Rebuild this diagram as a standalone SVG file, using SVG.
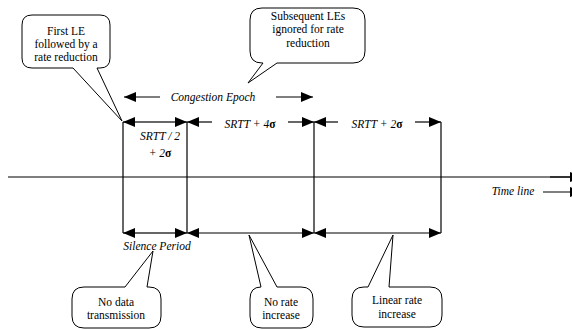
<svg xmlns="http://www.w3.org/2000/svg" width="572" height="330" viewBox="0 0 572 330">
<style>
.ln{stroke:#000;stroke-width:1.2;fill:none}
.ar{stroke:#000;stroke-width:1.2;fill:none;marker-end:url(#ah)}
.co{fill:#fff;stroke:#000;stroke-width:1}
.i{font-style:italic}
.s{font-weight:bold;font-style:normal}
</style>
<defs>
<marker id="ah" markerUnits="userSpaceOnUse" markerWidth="13" markerHeight="10" refX="12" refY="5" orient="auto">
<path d="M0,0 L12,5 L0,10 Z" fill="#000"/>
</marker>
</defs>
<rect width="572" height="330" fill="#fff"/>
<g id="connectors">
<line class="ln" x1="8" y1="177" x2="572" y2="177"/>
<line class="ar" x1="550" y1="177" x2="582" y2="177"/>
<line class="ln" x1="123" y1="122" x2="123" y2="233"/>
<line class="ln" x1="187" y1="122" x2="187" y2="233"/>
<line class="ln" x1="314" y1="122" x2="314" y2="233"/>
<line class="ln" x1="441" y1="122" x2="441" y2="233"/>
<line class="ar" x1="160" y1="97" x2="124" y2="97"/>
<line class="ar" x1="276" y1="97" x2="313" y2="97"/>
<line class="ar" x1="155" y1="122" x2="123" y2="122"/>
<line class="ar" x1="155" y1="122" x2="187" y2="122"/>
<line class="ar" x1="212" y1="122" x2="187" y2="122"/>
<line class="ar" x1="288" y1="122" x2="314" y2="122"/>
<line class="ar" x1="338" y1="122" x2="314" y2="122"/>
<line class="ar" x1="415" y1="122" x2="441" y2="122"/>
<line class="ar" x1="543" y1="192" x2="582" y2="192"/>
<line class="ar" x1="155" y1="233" x2="123" y2="233"/>
<line class="ar" x1="155" y1="233" x2="187" y2="233"/>
<line class="ar" x1="250" y1="233" x2="187" y2="233"/>
<line class="ar" x1="250" y1="233" x2="314" y2="233"/>
<line class="ar" x1="378" y1="233" x2="314" y2="233"/>
<line class="ar" x1="378" y1="233" x2="441" y2="233"/>
</g>
<g font-family="Liberation Serif, Times New Roman, serif" font-size="11.5" text-anchor="middle" fill="#000">
<g id="labels">
<text class="i" x="213" y="101">Congestion Epoch</text>
<text class="i" x="160" y="140">SRTT / 2</text>
<text class="i" x="160" y="157">+ 2<tspan class="s">σ</tspan></text>
<text class="i" x="250" y="128">SRTT + 4<tspan class="s">σ</tspan></text>
<text class="i" x="377" y="128">SRTT + 2<tspan class="s">σ</tspan></text>
<text class="i" x="513" y="195">Time line</text>
<text class="i" x="157" y="250">Silence Period</text>
</g>
<g id="callout-first-le">
<path class="co" d="M32,15 H100 Q110,15 110,25 V58 Q110,68 100,68 H97 L122,121 L73,68 H32 Q22,68 22,58 V25 Q22,15 32,15 Z"/>
<text x="66" y="35">First LE</text>
<text x="66" y="48">followed by a</text>
<text x="66" y="61">rate reduction</text>
</g>
<g id="callout-subsequent">
<path class="co" d="M262,8 H353 Q365,8 365,20 V51 Q365,63 353,63 H277 L248,83 L263,63 H262 Q250,63 250,51 V20 Q250,8 262,8 Z"/>
<text x="308" y="20">Subsequent LEs</text>
<text x="308" y="33">ignored for rate</text>
<text x="308" y="47">reduction</text>
</g>
<g id="callout-no-data">
<path class="co" d="M84,287 H125 L153,251 L147,287 H149 Q161,287 161,299 V316 Q161,328 149,328 H84 Q72,328 72,316 V299 Q72,287 84,287 Z"/>
<text x="116" y="306">No data</text>
<text x="116" y="319">transmission</text>
</g>
<g id="callout-no-rate">
<path class="co" d="M250,299 Q250,287 261,287 L249,235 L277,287 H301 Q313,287 313,299 V316 Q313,328 301,328 H262 Q250,328 250,316 Z"/>
<text x="281" y="306">No rate</text>
<text x="281" y="319">increase</text>
</g>
<g id="callout-linear">
<path class="co" d="M364,287 H368 L393,235 L389,287 H430 Q442,287 442,299 V315 Q442,327 430,327 H364 Q352,327 352,315 V299 Q352,287 364,287 Z"/>
<text x="397" y="304">Linear rate</text>
<text x="397" y="318">increase</text>
</g>
</g>
</svg>
